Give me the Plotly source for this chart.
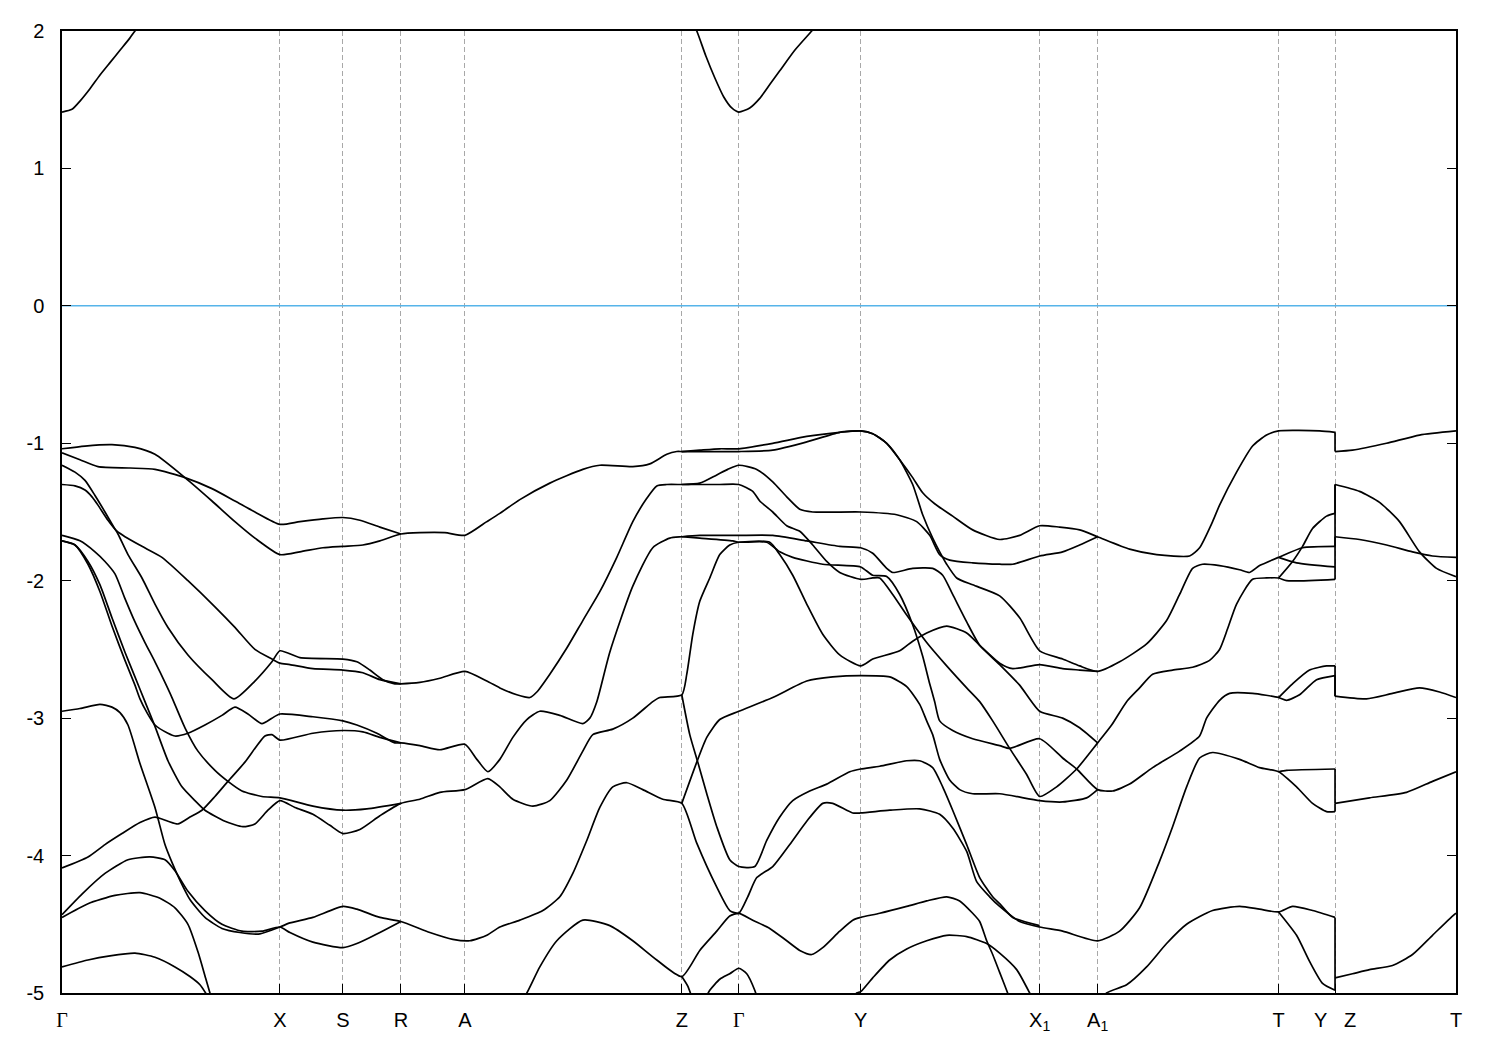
import plotly.graph_objects as go

# ---- high-symmetry path (path-length units) and labels ----
tick_k = [0, 218, 281, 339, 403, 620, 677, 799, 978, 1036, 1217, 1273.5, 1394.5]
G = '<span style="font-family:Liberation Serif">Γ</span>'
tick_text = [G, "X", "S", "R", "A", "Z", G, "Y", "X<sub>1</sub>", "A<sub>1</sub>", "T",
             "Y\u00a0\u00a0\u00a0Z", "T"]
y_ticks = [-5, -4, -3, -2, -1, 0, 1, 2]
y_tick_text = ["-5", "-4", "-3", "-2", "-1", "0", "1", "2"]
fermi_level = 0.0

# ---- conduction bands (k, E in eV) ----
cb_1 = [(0,1.41),(10,1.43),(18,1.49),(28,1.58),(38,1.68),(48,1.77),(58,1.86),(68,1.95),(73,2.0),(80,2.06)]
cb_2 = [(630,2.07),(635,2.0),(644,1.82),(653,1.66),(662,1.52),(670,1.44),(677,1.41),(688,1.44),(698,1.51),
        (708,1.61),(718,1.71),(733,1.86),(750,2.0),(756,2.05)]

# ---- valence bands (k, E in eV) ----
band_01 = [(0,-1.04),(23,-1.02),(50,-1.01),(73,-1.03),(93,-1.08),(123,-1.25),(150,-1.42),(173,-1.57),(193,-1.69),
           (218,-1.81),(238,-1.79),(261,-1.76),(281,-1.75),(301,-1.74),(318,-1.71),(339,-1.66),(358,-1.65),(383,-1.65),
           (403,-1.67),(425,-1.57),(438,-1.51),(458,-1.41),(488,-1.29),(521,-1.19),(538,-1.16),(571,-1.17),(588,-1.15),
           (605,-1.08),(615,-1.06),(620,-1.06),(638,-1.06),(658,-1.06),(677,-1.06),(711,-1.05),(745,-0.99),(778,-0.92),
           (799,-0.91),(811,-0.93),(825,-1.00),(838,-1.12),(851,-1.25),(861,-1.36),(873,-1.44),(891,-1.53),(911,-1.63),
           (938,-1.70),(958,-1.67),(978,-1.60),(998,-1.61),(1018,-1.63),(1036,-1.68),(1068,-1.77),(1095,-1.81),
           (1128,-1.82),(1138,-1.76),(1151,-1.57),(1158,-1.45),(1175,-1.21),(1191,-1.02),(1205,-0.94),(1217,-0.91),
           (1258,-0.91),(1273.5,-0.92),(1273.5,-1.06),(1291,-1.05),(1325,-1.00),(1358,-0.94),(1394.5,-0.91)]
band_02 = [(0,-1.07),(18,-1.12),(36,-1.17),(68,-1.18),(93,-1.19),(123,-1.25),(150,-1.33),(173,-1.42),(193,-1.50),
           (218,-1.59),(238,-1.57),(261,-1.55),(281,-1.54),(298,-1.56),(318,-1.61),(339,-1.66)]
band_03 = [(620,-1.06),(638,-1.05),(658,-1.04),(677,-1.04),(711,-1.00),(745,-0.95),(778,-0.92),(799,-0.91),
           (811,-0.93),(825,-1.00),(838,-1.12),(851,-1.30),(861,-1.52),(871,-1.69),(878,-1.79),(885,-1.88),
           (895,-1.98),(911,-2.03),(938,-2.11),(958,-2.27),(978,-2.51),(1001,-2.57),(1018,-2.62),(1036,-2.66),
           (1058,-2.59),(1085,-2.46),(1105,-2.29),(1118,-2.10),(1131,-1.91),(1141,-1.88),(1158,-1.89),(1178,-1.92),
           (1188,-1.94),(1198,-1.89),(1217,-1.83),(1241,-1.76),(1273.5,-1.75),(1273.5,-1.68),(1298,-1.70),
           (1325,-1.74),(1351,-1.79),(1371,-1.82),(1394.5,-1.83)]
band_04 = [(0,-1.16),(13,-1.21),(23,-1.27),(33,-1.38),(43,-1.50),(51,-1.60),(56,-1.66),(66,-1.81),(80,-1.98),
           (93,-2.17),(106,-2.34),(126,-2.54),(150,-2.72),(172,-2.86),(193,-2.73),(210,-2.59),(218,-2.51),(238,-2.56),
           (281,-2.57),(295,-2.59),(308,-2.65),(321,-2.72),(333,-2.75),(339,-2.75),(358,-2.74),(378,-2.71),(403,-2.66),
           (425,-2.73),(438,-2.78),(455,-2.83),(468,-2.85),(475,-2.81),(488,-2.68),(505,-2.49),(521,-2.29),(538,-2.08),
           (555,-1.83),(571,-1.57),(585,-1.40),(595,-1.31),(605,-1.30),(620,-1.30),(638,-1.30),(658,-1.30),(677,-1.30),
           (691,-1.35),(698,-1.42),(711,-1.50),(725,-1.60),(738,-1.64),(751,-1.74),(765,-1.86),(778,-1.94),(799,-1.99),
           (811,-1.98),(818,-1.98),(831,-2.10),(845,-2.25),(865,-2.45),(885,-2.62),(905,-2.78),(918,-2.88),(931,-3.02),
           (948,-3.22),(965,-3.41),(978,-3.57),(995,-3.50),(1015,-3.37),(1036,-3.18),(1050,-3.05),(1065,-2.88),
           (1078,-2.78),(1091,-2.68),(1111,-2.65),(1131,-2.63),(1148,-2.58),(1158,-2.50),(1166,-2.35),(1175,-2.17),
           (1191,-1.99),(1205,-1.98),(1217,-1.98),(1225,-2.00),(1273.5,-1.99),(1273.5,-1.30),(1298,-1.35),
           (1318,-1.43),(1338,-1.57),(1358,-1.79),(1375,-1.91),(1394.5,-1.97)]
band_05 = [(0,-1.30),(13,-1.31),(23,-1.34),(30,-1.39),(36,-1.45),(46,-1.56),(55,-1.64),(63,-1.68),(80,-1.75),
           (100,-1.83),(126,-2.00),(153,-2.19),(173,-2.34),(193,-2.50),(210,-2.57),(218,-2.60),(228,-2.61),
           (251,-2.64),(281,-2.65),(301,-2.67),(318,-2.72),(339,-2.75)]
band_06 = [(620,-1.30),(638,-1.29),(655,-1.23),(666,-1.19),(677,-1.16),(695,-1.19),(711,-1.28),(725,-1.39),
           (738,-1.48),(751,-1.50),(799,-1.50),(835,-1.52),(855,-1.57),(868,-1.67),(878,-1.81),(888,-1.85),
           (911,-1.87),(938,-1.88),(951,-1.88),(978,-1.82),(1001,-1.79),(1018,-1.74),(1036,-1.68)]
band_07 = [(0,-1.71),(13,-1.74),(26,-1.88),(38,-2.08),(50,-2.33),(63,-2.58),(73,-2.76),(78,-2.86),(85,-2.96),
           (93,-3.05),(106,-3.11),(113,-3.13),(126,-3.11),(143,-3.05),(160,-2.98),(173,-2.92),(186,-2.97),
           (200,-3.04),(210,-3.00),(218,-2.97),(251,-2.99),(281,-3.02),(295,-3.05),(315,-3.11),(333,-3.18),
           (339,-3.18),(358,-3.20),(378,-3.23),(403,-3.19),(415,-3.30),(426,-3.39),(438,-3.30),(451,-3.14),
           (465,-3.01),(478,-2.95),(498,-2.98),(521,-3.04),(528,-3.00),(535,-2.88),(548,-2.52),(571,-2.04),
           (591,-1.76),(608,-1.69),(620,-1.68),(638,-1.67),(658,-1.67),(677,-1.67),(711,-1.67),(745,-1.71),
           (778,-1.75),(799,-1.76),(811,-1.80),(825,-1.91),(831,-1.94),(851,-1.91),(871,-1.91),(881,-1.96),
           (891,-2.10),(905,-2.30),(918,-2.47),(938,-2.61),(958,-2.76),(978,-2.95),(1001,-3.00),(1018,-3.07),
           (1036,-3.18)]
band_08 = [(0,-1.71),(13,-1.74),(26,-1.86),(38,-2.03),(50,-2.27),(63,-2.52),(73,-2.70),(83,-2.88),(93,-3.06),
           (106,-3.31),(120,-3.50),(133,-3.60),(143,-3.67),(163,-3.75),(181,-3.79),(193,-3.77),(206,-3.67),
           (218,-3.60),(233,-3.65),(251,-3.70),(268,-3.78),(281,-3.84),(298,-3.81),(318,-3.71),(339,-3.62),
           (358,-3.59),(378,-3.54),(403,-3.52),(426,-3.44),(438,-3.50),(451,-3.59),(471,-3.64),(488,-3.60),
           (505,-3.45),(521,-3.24),(531,-3.12),(551,-3.08),(571,-3.00),(591,-2.88),(598,-2.85),(620,-2.83),
           (625,-2.68),(631,-2.39),(638,-2.15),(648,-1.98),(658,-1.81),(668,-1.74),(677,-1.72),(708,-1.72),
           (718,-1.81),(731,-1.96),(745,-2.17),(761,-2.39),(778,-2.54),(799,-2.62),(811,-2.57),(838,-2.51),
           (851,-2.44),(865,-2.38),(885,-2.33),(905,-2.38),(918,-2.47),(938,-2.60),(951,-2.64),(978,-2.61),
           (1001,-2.64),(1018,-2.65),(1036,-2.66)]
band_09 = [(0,-1.67),(18,-1.71),(33,-1.79),(43,-1.86),(53,-1.95),(63,-2.13),(73,-2.30),(83,-2.45),(93,-2.59),
           (103,-2.74),(110,-2.85),(123,-3.07),(136,-3.24),(153,-3.38),(166,-3.46),(180,-3.53),(200,-3.57),
           (218,-3.58),(251,-3.64),(281,-3.67),(305,-3.66),(339,-3.62)]
band_10 = [(0,-4.09),(26,-4.01),(43,-3.92),(60,-3.84),(78,-3.76),(93,-3.72),(106,-3.75),(116,-3.77),(128,-3.72),
           (140,-3.67),(153,-3.57),(166,-3.46),(183,-3.32),(203,-3.13),(210,-3.12),(218,-3.16),(251,-3.11),
           (281,-3.09),(301,-3.10),(318,-3.14),(339,-3.18)]
band_11 = [(620,-1.68),(638,-1.69),(671,-1.71),(677,-1.72),(705,-1.72),(718,-1.79),(731,-1.83),(761,-1.88),
           (799,-1.90),(811,-1.96),(825,-1.97),(838,-2.10),(851,-2.32),(861,-2.55),(868,-2.75),(873,-2.88),
           (878,-3.02),(891,-3.09),(911,-3.15),(938,-3.20),(948,-3.22),(978,-3.15),(1001,-3.29),(1015,-3.37),
           (1036,-3.52),(1051,-3.53),(1068,-3.48),(1091,-3.36),(1118,-3.24),(1138,-3.13),(1145,-3.00),
           (1158,-2.87),(1168,-2.82),(1191,-2.82),(1217,-2.85),(1225,-2.87),(1238,-2.83),(1255,-2.72),
           (1273.5,-2.69),(1273.5,-2.84),(1305,-2.86),(1331,-2.82),(1358,-2.78),(1378,-2.81),(1394.5,-2.85)]
band_12 = [(1217,-2.85),(1231,-2.75),(1248,-2.65),(1265,-2.62),(1273.5,-2.62),(1273.5,-2.84)]
band_13 = [(0,-2.95),(18,-2.93),(38,-2.90),(50,-2.92),(58,-2.96),(66,-3.05),(78,-3.33),(93,-3.65),(103,-3.92),
           (110,-4.05),(118,-4.18),(128,-4.32),(143,-4.45),(160,-4.53),(178,-4.56),(198,-4.57),(218,-4.52),
           (228,-4.49),(251,-4.45),(281,-4.37),(295,-4.39),(318,-4.45),(339,-4.48),(368,-4.56),(391,-4.61),
           (408,-4.62),(425,-4.58),(438,-4.52),(458,-4.47),(481,-4.40),(498,-4.30),(511,-4.13),(525,-3.89),
           (538,-3.65),(551,-3.50),(565,-3.47),(581,-3.52),(601,-3.59),(620,-3.62),(635,-3.91),(655,-4.23),
           (668,-4.40),(677,-4.42),(686,-4.30),(695,-4.16),(711,-4.08),(728,-3.92),(745,-3.75),(761,-3.62),
           (771,-3.62),(791,-3.69),(799,-3.69),(828,-3.67),(858,-3.66),(878,-3.70),(891,-3.80),(905,-3.97),
           (915,-4.19),(928,-4.30),(938,-4.37),(958,-4.48),(978,-4.52),(1001,-4.55),(1036,-4.62),(1058,-4.55),
           (1078,-4.38),(1098,-4.04),(1111,-3.79),(1125,-3.50),(1138,-3.29),(1151,-3.25),(1178,-3.30),
           (1198,-3.36),(1217,-3.39),(1235,-3.50),(1251,-3.62),(1265,-3.68),(1273.5,-3.68),(1273.5,-3.62),
           (1308,-3.58),(1345,-3.54),(1371,-3.46),(1394.5,-3.39)]
band_14 = [(1217,-3.39),(1225,-3.38),(1273.5,-3.37),(1273.5,-3.62)]
band_15 = [(0,-4.43),(20,-4.28),(43,-4.13),(66,-4.03),(88,-4.01),(103,-4.03),(113,-4.11),(126,-4.26),(143,-4.40),
           (160,-4.50),(180,-4.55),(200,-4.55),(218,-4.52),(228,-4.56),(251,-4.63),(281,-4.67),(295,-4.64),
           (318,-4.56),(339,-4.48)]
band_16 = [(0,-4.45),(26,-4.35),(53,-4.29),(78,-4.27),(98,-4.31),(113,-4.38),(126,-4.50),(136,-4.70),(144,-4.90),
           (150,-5.05)]
band_17 = [(0,-4.81),(26,-4.76),(48,-4.73),(73,-4.71),(93,-4.74),(113,-4.81),(128,-4.88),(138,-4.94),(148,-5.05)]
band_18 = [(620,-2.83),(628,-3.12),(636,-3.32),(645,-3.55),(655,-3.79),(668,-4.03),(677,-4.08),(693,-4.08),
           (705,-3.89),(718,-3.72),(731,-3.60),(748,-3.53),(765,-3.48),(788,-3.39),(799,-3.37),(818,-3.35),
           (845,-3.31),(858,-3.31),(871,-3.36),(881,-3.50),(891,-3.67),(905,-3.92),(918,-4.16),(931,-4.30),
           (938,-4.35),(951,-4.45),(978,-4.51)]
band_19 = [(620,-3.62),(635,-3.32),(645,-3.14),(658,-3.01),(677,-2.95),(711,-2.85),(745,-2.73),(771,-2.70),
           (799,-2.69),(828,-2.70),(845,-2.77),(858,-2.90),(865,-3.02),(871,-3.12),(878,-3.30),(888,-3.45),
           (898,-3.52),(911,-3.55),(938,-3.55),(978,-3.60),(1001,-3.61),(1025,-3.58),(1036,-3.52)]
band_20 = [(460,-5.05),(465,-5.00),(478,-4.81),(495,-4.62),(521,-4.47),(548,-4.51),(571,-4.62),(595,-4.76),
           (620,-4.88),(638,-4.69),(655,-4.55),(668,-4.44),(677,-4.42),(691,-4.47),(708,-4.53),(725,-4.62),
           (738,-4.69),(750,-4.72),(761,-4.67),(778,-4.55),(791,-4.47),(799,-4.45),(818,-4.42),(845,-4.37),
           (865,-4.33),(885,-4.30),(898,-4.33),(911,-4.42),(918,-4.48),(925,-4.62),(931,-4.72),(938,-4.85),
           (946,-5.00),(950,-5.08)]
band_21 = [(620,-4.88),(626,-4.95),(631,-5.05)]
band_22 = [(643,-5.05),(648,-4.98),(658,-4.90),(668,-4.86),(677,-4.82),(685,-4.86),(693,-4.98),(696,-5.05)]
band_23 = [(790,-5.06),(795,-5.00),(799,-4.99),(811,-4.89),(828,-4.76),(845,-4.68),(865,-4.62),(885,-4.58),
           (905,-4.59),(925,-4.64),(938,-4.71),(955,-4.83),(968,-5.00),(972,-5.06)]
band_24 = [(1040,-5.06),(1045,-5.00),(1065,-4.94),(1085,-4.81),(1105,-4.64),(1125,-4.50),(1151,-4.40),
           (1178,-4.37),(1198,-4.39),(1217,-4.41),(1231,-4.37),(1251,-4.40),(1273.5,-4.45),(1273.5,-4.89),
           (1291,-4.86),(1308,-4.83),(1331,-4.80),(1351,-4.72),(1371,-4.58),(1391,-4.44),(1394.5,-4.42)]
band_25 = [(1217,-4.41),(1235,-4.58),(1248,-4.77),(1261,-4.93),(1273.5,-4.98),(1273.5,-4.89)]
band_26 = [(1217,-1.83),(1235,-1.87),(1273.5,-1.90)]
band_27 = [(1217,-1.98),(1231,-1.86),(1241,-1.75),(1251,-1.62),(1265,-1.53),(1273.5,-1.51),(1273.5,-1.30)]

bands = [cb_1, cb_2, band_01, band_02, band_03, band_04, band_05, band_06, band_07, band_08, band_09,
         band_10, band_11, band_12, band_13, band_14, band_15, band_16, band_17, band_18, band_19,
         band_20, band_21, band_22, band_23, band_24, band_25, band_26, band_27]

fig = go.Figure()

# Fermi level
fig.add_trace(go.Scatter(x=[tick_k[0], tick_k[-1]], y=[fermi_level, fermi_level], mode="lines",
                         line=dict(color="#56b4e9", width=1.5), hoverinfo="skip"))

LINE = dict(color="black", width=1.7)


def add_curve(pts, shape):
    if len(pts) < 2:
        return
    style = dict(LINE, shape="spline", smoothing=0.6) if shape == "spline" else dict(LINE, shape="linear")
    fig.add_trace(go.Scatter(x=[p[0] for p in pts], y=[p[1] for p in pts], mode="lines",
                             line=style, hoverinfo="skip"))


for band in bands:
    seg = [band[0]]
    for p in band[1:]:
        if p[0] == seg[-1][0]:      # vertical jump at the path break
            add_curve(seg, "spline")
            add_curve([seg[-1], p], "linear")
            seg = [p]
        else:
            seg.append(p)
    add_curve(seg, "spline")

# the page adds an 8px body margin, so the plot-area margins are reduced accordingly
fig.update_layout(
    width=1500, height=1050,
    margin=dict(l=54, r=52, t=20, b=65),
    plot_bgcolor="white", paper_bgcolor="white",
    showlegend=False,
    font=dict(family="Liberation Sans, Arial, sans-serif", size=20, color="black"),
)
fig.update_xaxes(
    range=[tick_k[0], tick_k[-1]], tickmode="array", tickvals=tick_k, ticktext=tick_text,
    ticks="inside", ticklen=9, tickwidth=1.2, tickcolor="black",
    showgrid=True, gridcolor="#a8a8a8", gridwidth=1, griddash="5px,3px",
    showline=True, linecolor="black", linewidth=1.5, mirror=True, zeroline=False,
    ticklabelstandoff=8,
)
fig.update_yaxes(
    range=[-5, 2], tickmode="array", tickvals=y_ticks, ticktext=y_tick_text,
    ticks="inside", ticklen=9, tickwidth=1.2, tickcolor="black",
    showgrid=False, showline=True, linecolor="black", linewidth=1.5, mirror="ticks",
    zeroline=False, ticklabelstandoff=12,
)

fig.write_html("out.html")
